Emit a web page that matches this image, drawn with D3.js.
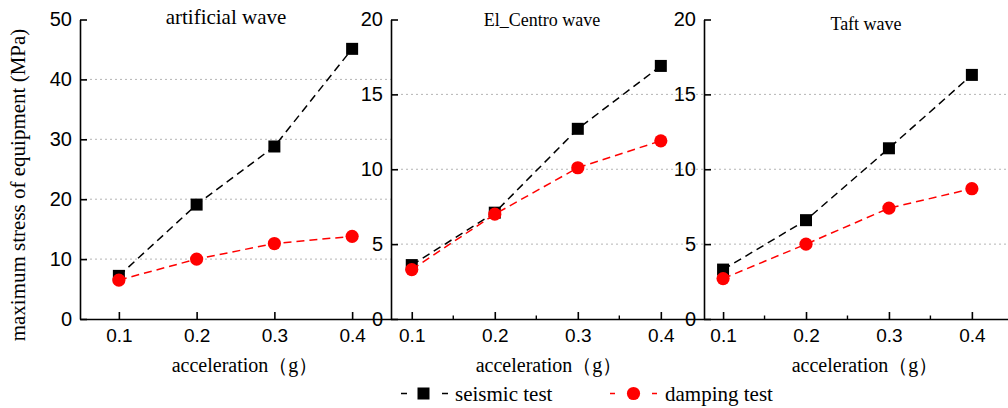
<!DOCTYPE html>
<html>
<head>
<meta charset="utf-8">
<script src="https://cdn.jsdelivr.net/npm/d3@7"></script>
<style>
  html, body { margin: 0; padding: 0; background: #fff; }
  svg { display: block; }
  .tick text { font-family: "Liberation Sans", Arial, sans-serif; fill: #000; }
  .serif { font-family: "Liberation Serif", "Times New Roman", serif; fill: #000; }
</style>
</head>
<body>
<div id="container"></div>
<script>
// data
const accel = [0.1, 0.2, 0.3, 0.4];
const waves = ['artificial wave', 'El_Centro wave', 'Taft wave'];
const seismicArtificial = [7.2, 19.1, 28.8, 45.1];
const dampingArtificial = [6.5, 10.0, 12.6, 13.8];
const seismicElCentro = [3.6, 7.1, 12.7, 16.9];
const dampingElCentro = [3.3, 7.0, 10.1, 11.9];
const seismicTaft = [3.3, 6.6, 11.4, 16.3];
const dampingTaft = [2.7, 5.0, 7.4, 8.7];
const yMax = [50, 20, 20];
const yStep = [10, 5, 5];
const minorTicks = [[], [0.15, 0.25, 0.35], [0.15, 0.25, 0.35]];
const seriesNames = ['seismic test', 'damping test'];

const width = 1008;
const height = 408;
const colors = ['#000', '#ff0000'];
const sq = 12;   // square marker side
const rad = 6.6; // circle marker radius

// panel layout (pixel ranges + x domains)
const panels = [
    { x0: 80, x1: 391, dom: [0.05, 0.45], titleX: 226, titleY: 24, titleSize: 21, labelX: 245,
      seismic: seismicArtificial, damping: dampingArtificial },
    { x0: 391, x1: 704, dom: [0.075, 0.452], titleX: 542, titleY: 26, titleSize: 18, labelX: 549,
      seismic: seismicElCentro, damping: dampingElCentro },
    { x0: 704, x1: 1015, dom: [0.077, 0.452], titleX: 866, titleY: 30, titleSize: 18, labelX: 865,
      seismic: seismicTaft, damping: dampingTaft }
];
const yTop = 19.5;
const yBottom = 319;

const svg = d3.select('#container').append('svg')
    .attr('width', width)
    .attr('height', height);

svg.append('rect').attr('width', width).attr('height', height).attr('fill', '#fff');

panels.forEach((p, i) => {
    const x = d3.scaleLinear().domain(p.dom).range([p.x0, p.x1]);
    const y = d3.scaleLinear().domain([0, yMax[i]]).range([yBottom, yTop]);
    const yTicks = d3.range(0, yMax[i] + 0.001, yStep[i]);
    const g = svg.append('g');

    // dotted grid
    g.append('g').selectAll('line')
        .data(yTicks.filter(v => v > 0 && v < yMax[i]))
        .join('line')
        .attr('x1', p.x0).attr('x2', p.x1)
        .attr('y1', d => y(d)).attr('y2', d => y(d))
        .attr('stroke', '#b4b4b4')
        .attr('stroke-width', 1)
        .attr('stroke-dasharray', '2,3');

    // x axis
    const xAxis = g.append('g')
        .attr('transform', `translate(0,${yBottom})`)
        .call(d3.axisBottom(x).tickValues(accel).tickFormat(d3.format('.1f'))
            .tickSize(-7).tickSizeOuter(0).tickPadding(10));
    xAxis.selectAll('text').attr('font-size', 19);

    g.append('g').selectAll('line')
        .data(minorTicks[i])
        .join('line')
        .attr('x1', d => x(d)).attr('x2', d => x(d))
        .attr('y1', yBottom).attr('y2', yBottom - 3.5)
        .attr('stroke', '#000').attr('stroke-width', 1.4);

    // y axis
    const yAxis = g.append('g')
        .attr('transform', `translate(${p.x0},0)`)
        .call(d3.axisLeft(y).tickValues(yTicks).tickFormat(d3.format('d'))
            .tickSize(-7).tickSizeOuter(0).tickPadding(8));
    yAxis.selectAll('text').attr('font-size', 20);

    g.selectAll('.domain, .tick line').attr('stroke', '#000').attr('stroke-width', 1.6);

    // series: black first, red on top
    [p.seismic, p.damping].forEach((vals, s) => {
        const pts = accel.map((a, k) => [x(a), y(vals[k])]);
        g.append('path')
            .attr('d', d3.line()(pts))
            .attr('fill', 'none')
            .attr('stroke', colors[s])
            .attr('stroke-width', 1.5)
            .attr('stroke-dasharray', '8,5');
        if (s === 0) {
            g.append('g').selectAll('rect')
                .data(pts).join('rect')
                .attr('x', d => d[0] - sq / 2).attr('y', d => d[1] - sq / 2)
                .attr('width', sq).attr('height', sq)
                .attr('fill', '#000');
        } else {
            g.append('g').selectAll('circle')
                .data(pts).join('circle')
                .attr('cx', d => d[0]).attr('cy', d => d[1])
                .attr('r', rad)
                .attr('fill', colors[1]);
        }
    });

    g.append('text')
        .attr('class', 'serif')
        .attr('x', p.titleX).attr('y', p.titleY)
        .attr('text-anchor', 'middle')
        .attr('font-size', p.titleSize)
        .text(waves[i]);

    g.append('text')
        .attr('class', 'serif')
        .attr('x', p.labelX).attr('y', 372)
        .attr('text-anchor', 'middle')
        .attr('font-size', 20)
        .text('acceleration（g）');
});

svg.append('text')
    .attr('class', 'serif')
    .attr('transform', 'translate(25,185) rotate(-90)')
    .attr('text-anchor', 'middle')
    .attr('font-size', 21)
    .text('maximum stress of equipment (MPa)');

// legend
const legend = [
    { x1: 401, x2: 448, dash: '6,35', mark: 423.5, text: 455 },
    { x1: 610, x2: 657, dash: '5,37', mark: 633.5, text: 665 }
];
const ly = 393.5;
legend.forEach((l, s) => {
    svg.append('line')
        .attr('x1', l.x1).attr('x2', l.x2)
        .attr('y1', ly).attr('y2', ly)
        .attr('stroke', colors[s])
        .attr('stroke-width', 1.6)
        .attr('stroke-dasharray', l.dash);
    if (s === 0) {
        svg.append('rect')
            .attr('x', l.mark - sq / 2).attr('y', ly - sq / 2)
            .attr('width', sq).attr('height', sq).attr('fill', '#000');
    } else {
        svg.append('circle')
            .attr('cx', l.mark).attr('cy', ly).attr('r', rad).attr('fill', colors[1]);
    }
    svg.append('text')
        .attr('class', 'serif')
        .attr('x', l.text).attr('y', 401)
        .attr('font-size', 21)
        .text(seriesNames[s]);
});
</script>
</body>
</html>
